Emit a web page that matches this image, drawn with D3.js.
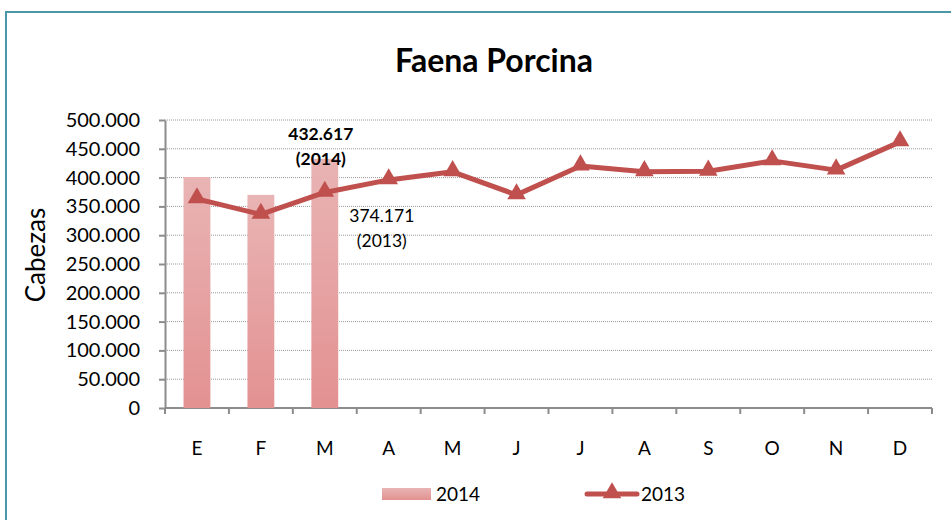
<!DOCTYPE html>
<html>
<head>
<meta charset="utf-8">
<script src="https://cdn.jsdelivr.net/npm/d3@7"></script>
<style>
  body { margin: 0; background: #fff; }
  svg { display: block; font-family: Lato, "Open Sans", sans-serif; }
</style>
</head>
<body>
<div id="chart"></div>
<script>
// Month initials (Spanish) on the X axis.
var months = ["E", "F", "M", "A", "M", "J", "J", "A", "S", "O", "N", "D"];

// Pig slaughter, heads per month.
var values_2014 = [401000, 370000, 432617];
var values_2013 = [363000, 336000, 374171, 396000, 410000, 370000,
                   420000, 410000, 411000, 429000, 413000, 462000];

var y_ticks = [0, 50000, 100000, 150000, 200000, 250000,
               300000, 350000, 400000, 450000, 500000];

var width = 951, height = 520;
var plot = {left: 165, right: 932, top: 120, bottom: 408};
var line_color = "#c0504d";

var svg = d3.select("#chart").append("svg")
    .attr("width", width)
    .attr("height", height);

// Gradient for the 2014 bars (lighter at the top).
var grad = svg.append("defs").append("linearGradient")
    .attr("id", "bar_grad")
    .attr("x1", 0).attr("y1", 0).attr("x2", 0).attr("y2", 1);
grad.append("stop").attr("offset", "0%").attr("stop-color", "#e9b4b4");
grad.append("stop").attr("offset", "100%").attr("stop-color", "#e39191");

// Outer frame, cut by the right and bottom edges of the picture.
svg.append("rect")
    .attr("x", 6).attr("y", 12)
    .attr("width", width + 20).attr("height", height + 20)
    .style("fill", "none")
    .style("stroke", "#4a98a6")
    .style("stroke-width", 2);

// Scales.
var x = d3.scaleBand()
    .domain(d3.range(months.length))
    .range([plot.left, plot.right]);

var y = d3.scaleLinear()
    .domain([0, 500000])
    .range([plot.bottom, plot.top]);

var fmt = d3.formatLocale({decimal: ",", thousands: ".", grouping: [3], currency: ["", ""]})
    .format(",d");

// Title.
svg.append("text")
    .attr("x", 494).attr("y", 72)
    .attr("text-anchor", "middle")
    .style("font-size", "32px")
    .style("font-weight", "bold")
    .text("Faena Porcina");

// Dotted gridlines.
svg.append("g")
    .selectAll("line")
    .data(y_ticks.filter(d => d > 0))
    .join("line")
        .attr("x1", plot.left).attr("x2", plot.right)
        .attr("y1", d => y(d)).attr("y2", d => y(d))
        .style("stroke", "#9a9a9a")
        .style("stroke-width", 1)
        .style("stroke-dasharray", "1,1");

// Y axis.
var y_axis = svg.append("g")
    .attr("transform", "translate(" + plot.left + ",0)")
    .call(d3.axisLeft(y).tickValues(y_ticks).tickFormat(fmt).tickSize(6).tickSizeOuter(0).tickPadding(19));

// X axis, ticks on the band boundaries.
var x_axis = svg.append("g")
    .attr("transform", "translate(0," + plot.bottom + ")");

x_axis.append("line")
    .attr("x1", plot.left).attr("x2", plot.right)
    .style("stroke", "#8c8c8c").style("stroke-width", 2);

x_axis.selectAll("line.tick")
    .data(d3.range(months.length + 1))
    .join("line")
        .attr("class", "tick")
        .attr("x1", d => plot.left + d * x.step())
        .attr("x2", d => plot.left + d * x.step())
        .attr("y1", 0).attr("y2", 6)
        .style("stroke", "#8c8c8c").style("stroke-width", 2);

x_axis.selectAll("text")
    .data(months)
    .join("text")
        .attr("x", (d, i) => x(i) + x.bandwidth() / 2)
        .attr("y", 47)
        .attr("text-anchor", "middle")
        .style("font-size", "19px")
        .text(d => d);

y_axis.select(".domain").style("stroke", "#8c8c8c").style("stroke-width", 2);
y_axis.selectAll(".tick line").style("stroke", "#8c8c8c").style("stroke-width", 2);
y_axis.selectAll(".tick text").style("font-size", "20px").style("fill", "#000")
    .style("font-family", "Lato, sans-serif");

// Y axis title.
svg.append("text")
    .attr("transform", "translate(45,255) rotate(-90)")
    .attr("text-anchor", "middle")
    .style("font-size", "26px")
    .text("Cabezas");

// Bars 2014.
var bar_w = x.bandwidth() * 0.42;
svg.append("g")
    .selectAll("rect")
    .data(values_2014)
    .join("rect")
        .attr("x", (d, i) => x(i) + (x.bandwidth() - bar_w) / 2)
        .attr("y", d => y(d))
        .attr("width", bar_w)
        .attr("height", d => y(0) - y(d))
        .style("fill", "url(#bar_grad)");

// Line 2013.
var cx = (d, i) => x(i) + x.bandwidth() / 2;

svg.append("path")
    .datum(values_2013)
    .attr("d", d3.line().x(cx).y(d => y(d)))
    .style("fill", "none")
    .style("stroke", line_color)
    .style("stroke-width", 5)
    .style("stroke-linejoin", "round");

var tri = d3.symbol().type(d3.symbolTriangle).size(150);
svg.append("g")
    .selectAll("path")
    .data(values_2013)
    .join("path")
        .attr("d", tri)
        .attr("transform", (d, i) => "translate(" + cx(d, i) + "," + (y(d) - 1) + ")")
        .style("fill", line_color);

// Data labels for March.
var labels = svg.append("g").style("font-size", "17.5px");

labels.append("text")
    .attr("x", cx(0, 2) - 4).attr("y", y(values_2014[2]) - 19)
    .attr("text-anchor", "middle").style("font-weight", "bold")
    .text(fmt(values_2014[2]));
labels.append("text")
    .attr("x", cx(0, 2) - 4).attr("y", y(values_2014[2]) + 6)
    .attr("text-anchor", "middle").style("font-weight", "bold")
    .text("(2014)");

labels.append("text")
    .attr("x", cx(0, 2) + 57).attr("y", y(values_2013[2]) + 30)
    .attr("text-anchor", "middle")
    .text(fmt(values_2013[2]));
labels.append("text")
    .attr("x", cx(0, 2) + 57).attr("y", y(values_2013[2]) + 55)
    .attr("text-anchor", "middle")
    .text("(2013)");

// Legend.
var legend = svg.append("g").style("font-size", "19px");

legend.append("rect")
    .attr("x", 382).attr("y", 488)
    .attr("width", 49).attr("height", 12)
    .style("fill", "url(#bar_grad)");
legend.append("text")
    .attr("x", 436).attr("y", 501)
    .text("2014");

legend.append("line")
    .attr("x1", 587).attr("x2", 637)
    .attr("y1", 494).attr("y2", 494)
    .style("stroke", line_color)
    .style("stroke-width", 5)
    .style("stroke-linecap", "round");
legend.append("path")
    .attr("d", tri)
    .attr("transform", "translate(612,493)")
    .style("fill", line_color);
legend.append("text")
    .attr("x", 641).attr("y", 501)
    .text("2013");
</script>
</body>
</html>
